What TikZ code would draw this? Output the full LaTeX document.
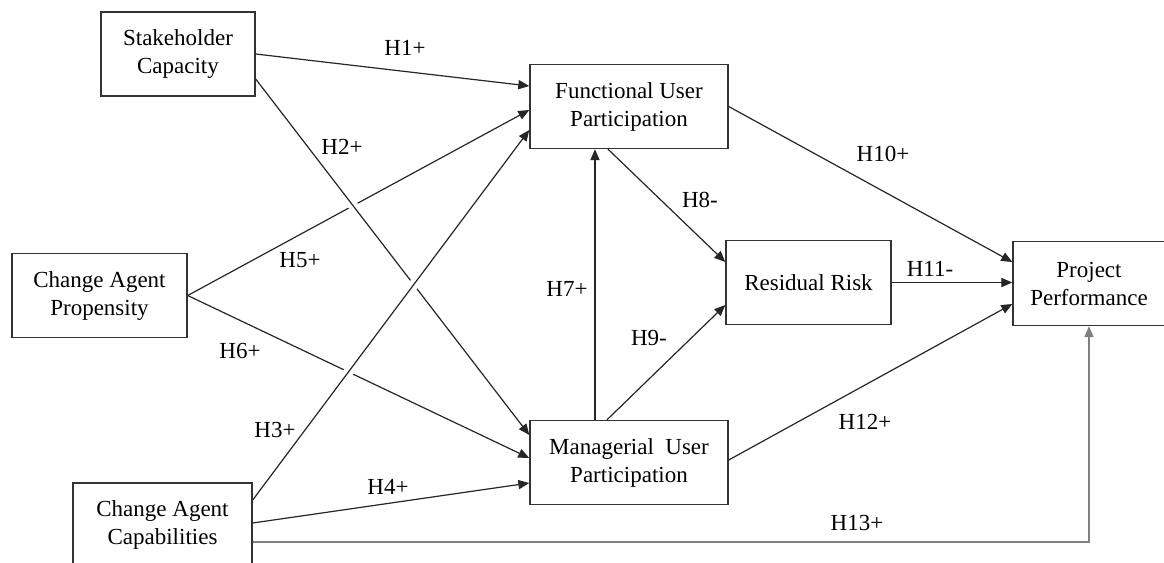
\documentclass[tikz,border=0pt]{standalone}
\usepackage{fontspec}
\setmainfont{Liberation Serif}
\usetikzlibrary{arrows.meta}

\tikzset{
  box/.style={draw=black!80, line width=0.7pt, align=center, minimum height=42pt, inner sep=2pt},
  arr/.style={draw=black!85, line width=0.6pt, -{Triangle[length=5.5pt,width=4.6pt]}},
  hop/.style={preaction={draw=white, -, line width=5pt, shorten <=8pt, shorten >=8pt}},
  lab/.style={inner sep=0pt}
}

\begin{document}
\begin{tikzpicture}[x=0.5pt, y=-0.5pt, every node/.style={font=\fontsize{11.5}{14}\selectfont}]
\useasboundingbox (0,0) rectangle (1164,563);

% constructs
\node[box, minimum width=77pt] (sc) at (178,54) {Stakeholder\\Capacity};
\node[box, minimum width=87.5pt] (cap) at (99.5,295.5) {Change Agent\\Propensity};
\node[box, minimum width=89.5pt] (cac) at (162.5,525) {Change Agent\\Capabilities};
\node[box, minimum width=99pt] (fup) at (629,106.5) {Functional User\\Participation};
\node[box, minimum width=99pt] (mup) at (629,462.5) {Managerial~~User\\Participation};
\node[box, minimum width=82.5pt] (rr) at (808.5,282.5) {Residual Risk};
\node[box, minimum width=76pt] (pp) at (1089,283.5) {Project\\Performance};

% paths
\draw[arr] (sc.east) -- ([shift={(0,-20.5)}]fup.west);
\draw[arr] (cap.east) -- ([shift={(0,3.5)}]fup.west);
\draw[arr] (cap.east) -- ([shift={(0,-4.5)}]mup.west);
\draw[arr, hop] ([shift={(0,25)}]sc.east) -- ([shift={(0,-27.5)}]mup.west);
\draw[arr, hop] ([shift={(0,-25)}]cac.east) -- ([shift={(0,23.5)}]fup.west);
\draw[arr] ([shift={(0,-2)}]cac.east) -- ([shift={(0,20.5)}]mup.west);
\draw[arr, draw=black!50] ([shift={(0,17)}]cac.east) -| (pp.south);
\draw[arr] ([shift={(-34,0)}]mup.north) -- ([shift={(-34,0)}]fup.south);
\draw[arr] ([shift={(-21,0)}]fup.south) -- ([shift={(0,-20.5)}]rr.west);
\draw[arr] ([shift={(-22,0)}]mup.north) -- ([shift={(0,22.5)}]rr.west);
\draw[arr] (fup.east) -- ([shift={(0,-21.5)}]pp.west);
\draw[arr] (rr.east) -- (rr.east -| pp.west);
\draw[arr] ([shift={(0,-2.5)}]mup.east) -- ([shift={(0,20.5)}]pp.west);

% hypotheses
\node[lab] (h1) at (405,48) {H1+};
\node[lab] (h2) at (342,147) {H2+};
\node[lab] (h3) at (275,430) {H3+};
\node[lab] (h4) at (388,487) {H4+};
\node[lab] (h5) at (300,260) {H5+};
\node[lab] (h6) at (240,351) {H6+};
\node[lab] (h7) at (567,289) {H7+};
\node[lab] (h8) at (700,200) {H8-};
\node[lab] (h9) at (649,338) {H9-};
\node[lab] (h10) at (883,154) {H10+};
\node[lab] (h11) at (930,269) {H11-};
\node[lab] (h12) at (865,422) {H12+};
\node[lab] (h13) at (857,523) {H13+};
\end{tikzpicture}
\end{document}
